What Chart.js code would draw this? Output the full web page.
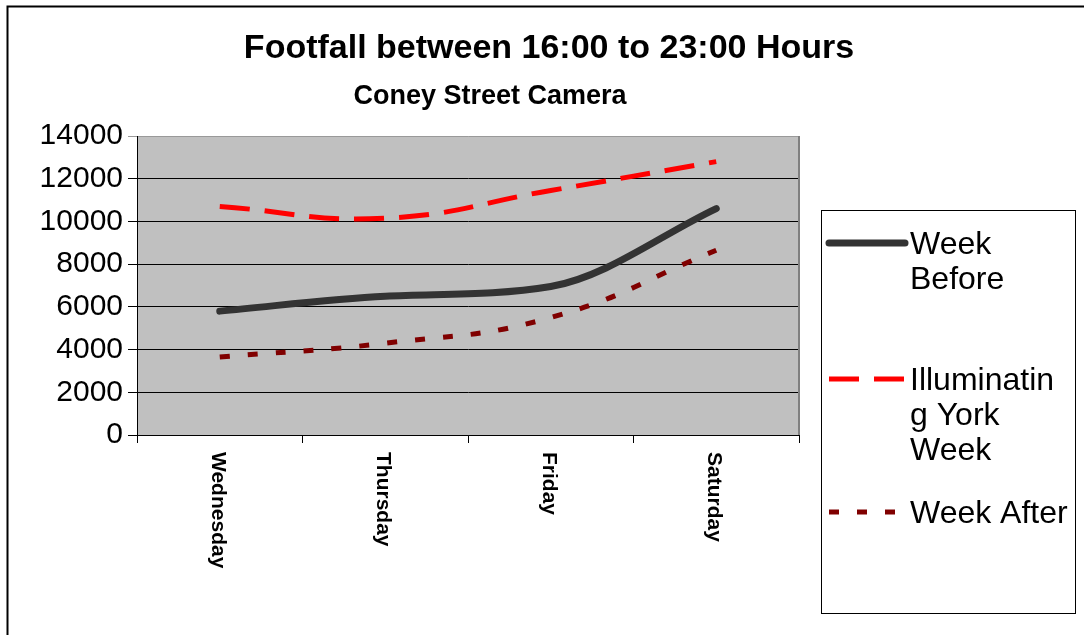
<!DOCTYPE html>
<html lang="en">
  <head>
    <meta charset="UTF-8" />
    <title>Footfall between 16:00 to 23:00 Hours</title>
    <script src="https://cdn.jsdelivr.net/npm/chart.js"></script>
    <style>
      body { margin: 0; background: #fff; }
      #grafico { display: block; }
    </style>
  </head>
  <body>
    <canvas id="grafico" width="1084" height="635"></canvas>

    <script>
      // dados
      const dias = ["Wednesday", "Thursday", "Friday", "Saturday"];
      const weekBefore = [5800, 6500, 6950, 10600];
      const illuminatingWeek = [10700, 10150, 11450, 12800];
      const weekAfter = [3650, 4300, 5500, 8650];
      const nomesSeries = ["Week Before", "Illuminating York Week", "Week After"];
      const yMin = 0, yMax = 14000, yPasso = 2000;

      const titulo = "Footfall between 16:00 to 23:00 Hours";
      const subtitulo = "Coney Street Camera";

      const fonte = "'Liberation Sans', Arial, sans-serif";

      // quebra o texto da legenda como o Excel (quebra a palavra se nao couber)
      function quebraTexto(ctx, texto, largura) {
        const linhas = [];
        let atual = "";
        texto.split(" ").forEach(function (palavra) {
          let teste = atual ? atual + " " + palavra : palavra;
          if (ctx.measureText(teste).width <= largura) {
            atual = teste;
            return;
          }
          if (atual) linhas.push(atual);
          atual = "";
          for (const c of palavra) {
            if (ctx.measureText(atual + c).width > largura && atual) {
              linhas.push(atual);
              atual = c;
            } else {
              atual += c;
            }
          }
        });
        if (atual) linhas.push(atual);
        return linhas;
      }

      const desenhos = {
        id: "desenhos",
        beforeDraw(chart) {
          const { ctx, chartArea: a } = chart;
          ctx.save();
          ctx.fillStyle = "#C0C0C0";
          ctx.fillRect(a.left, a.top, a.right - a.left, a.bottom - a.top);
          ctx.restore();
        },
        beforeDatasetsDraw(chart) {
          const { ctx, chartArea: a } = chart;
          ctx.save();
          ctx.strokeStyle = "#808080";
          ctx.lineWidth = 2;
          ctx.beginPath();
          ctx.moveTo(a.right, a.top);
          ctx.lineTo(a.right, a.bottom);
          ctx.stroke();
          ctx.restore();
        },
        afterDraw(chart) {
          const ctx = chart.ctx;
          const xScale = chart.scales.x;
          ctx.save();

          // moldura externa
          ctx.strokeStyle = "#000";
          ctx.lineWidth = 2;
          ctx.beginPath();
          ctx.moveTo(7.5, 640);
          ctx.lineTo(7.5, 6.5);
          ctx.lineTo(1090, 6.5);
          ctx.stroke();

          // titulos
          ctx.fillStyle = "#000";
          ctx.textAlign = "center";
          ctx.textBaseline = "middle";
          ctx.font = "bold 34px " + fonte;
          ctx.fillText(titulo, 549, 49);
          ctx.font = "bold 27px " + fonte;
          ctx.fillText(subtitulo, 490, 97);

          // rotulos do eixo x (girados)
          ctx.font = "bold 21px " + fonte;
          ctx.textAlign = "left";
          dias.forEach(function (dia, i) {
            const x = xScale.getPixelForValue(i);
            ctx.save();
            ctx.translate(x - 2, 452);
            ctx.rotate(Math.PI / 2);
            ctx.fillText(dia, 0, 0);
            ctx.restore();
          });

          // legenda
          ctx.lineWidth = 1;
          ctx.strokeStyle = "#000";
          ctx.strokeRect(821.5, 210.5, 254, 403);
          ctx.font = "32px " + fonte;
          ctx.textAlign = "left";
          ctx.textBaseline = "middle";
          const posY = [243, 379, 512];
          chart.data.datasets.forEach(function (ds, i) {
            const y = posY[i];
            ctx.save();
            ctx.strokeStyle = ds.borderColor;
            ctx.lineWidth = ds.borderWidth;
            ctx.lineCap = ds.borderCapStyle || "butt";
            ctx.setLineDash(ds.borderDash || []);
            ctx.beginPath();
            ctx.moveTo(829, y);
            ctx.lineTo(905, y);
            ctx.stroke();
            ctx.restore();
            const linhas = quebraTexto(ctx, ds.label, 160);
            linhas.forEach(function (linha, j) {
              ctx.fillText(linha, 910, y + 2 + j * 35);
            });
          });

          ctx.restore();
        },
      };

      new Chart(document.getElementById("grafico"), {
        type: "line",
        data: {
          labels: dias,
          datasets: [
            {
              label: nomesSeries[0],
              data: weekBefore,
              borderColor: "#333333",
              borderWidth: 7,
              borderCapStyle: "round",
              cubicInterpolationMode: "monotone",
              pointRadius: 0,
            },
            {
              label: nomesSeries[1],
              data: illuminatingWeek,
              borderColor: "#FF0000",
              borderWidth: 5,
              borderDash: [30, 15],
              tension: 0.45,
              pointRadius: 0,
            },
            {
              label: nomesSeries[2],
              data: weekAfter,
              borderColor: "#800000",
              borderWidth: 5,
              borderDash: [10, 18],
              tension: 0.45,
              pointRadius: 0,
            },
          ],
        },
        options: {
          responsive: false,
          animation: false,
          layout: { padding: { left: 0, top: 136, right: 285, bottom: 0 } },
          plugins: {
            legend: { display: false },
            title: { display: false },
            tooltip: { enabled: false },
          },
          scales: {
            x: {
              offset: true,
              grid: {
                offset: true,
                drawOnChartArea: false,
                drawTicks: true,
                tickLength: 8,
                color: "#000",
              },
              border: { color: "#000", width: 1 },
              ticks: { display: false },
              afterFit: function (s) { s.height = 200; },
            },
            y: {
              min: yMin,
              max: yMax,
              ticks: {
                stepSize: yPasso,
                color: "#000",
                padding: 5,
                font: { size: 30, family: fonte },
                callback: function (v) { return String(v); },
              },
              grid: {
                color: function (c) { return c.tick && c.tick.value === yMax ? "#999999" : "#000000"; },
                tickLength: 9,
              },
              border: { color: "#000", width: 1 },
              afterFit: function (s) { s.width = 137; },
            },
          },
        },
        plugins: [desenhos],
      });
    </script>
  </body>
</html>
